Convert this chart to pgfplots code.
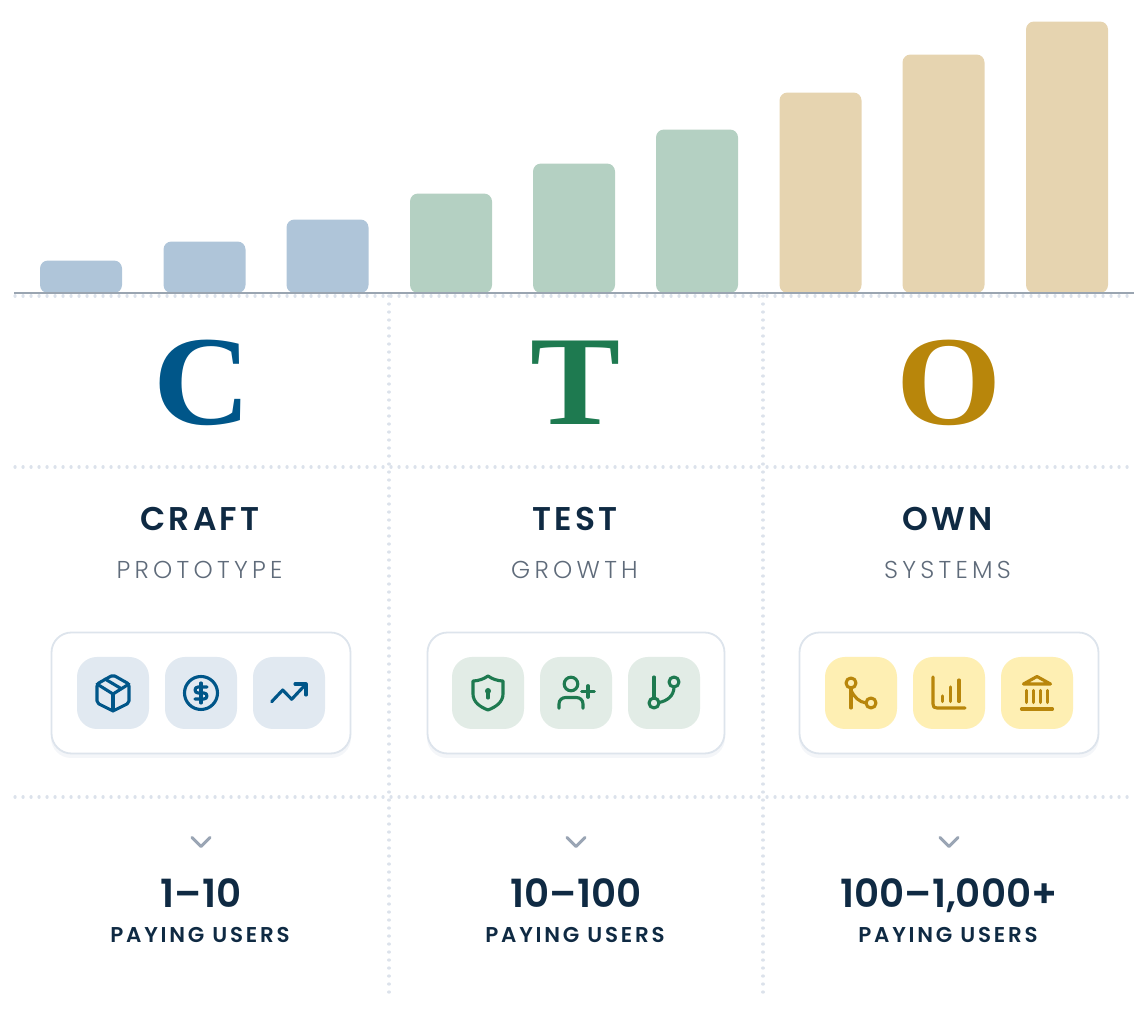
\documentclass[border=0pt]{standalone}
\usepackage{pgfplots}
\pgfplotsset{compat=1.18}
\usepackage{fontspec}
\setmainfont{Poppins}
\newfontfamily\hd[LetterSpace=10]{Poppins SemiBold}
\newfontfamily\sub[LetterSpace=17.5]{Poppins Light}
\newfontfamily\num{Poppins SemiBold}
\newfontfamily\pay[LetterSpace=13]{Poppins SemiBold}
\newfontfamily\ser{Liberation Serif}
\definecolor{bblue}{HTML}{AFC5D9}
\definecolor{bgreen}{HTML}{B4D0C2}
\definecolor{btan}{HTML}{E6D4B0}
\definecolor{cblue}{HTML}{005689}
\definecolor{cgreen}{HTML}{1E7A50}
\definecolor{cgold}{HTML}{B8860B}
\definecolor{tblue}{HTML}{E1E9F1}
\definecolor{tgreen}{HTML}{E2ECE6}
\definecolor{tgold}{HTML}{FEEFB3}
\definecolor{navy}{HTML}{0F2A43}
\definecolor{subg}{HTML}{5F6B7A}
\definecolor{dotc}{HTML}{DCE2EB}
\definecolor{cardb}{HTML}{DDE4EC}
\definecolor{shad}{HTML}{F4F6F9}
\definecolor{basel}{HTML}{9AA5B1}
\definecolor{chev}{HTML}{9AA5B4}
\pgfplotstableread{
x v
81 32.5
204.5 51.5
327.5 73.5
}\tblA
\pgfplotstableread{
x v
451 99.5
574 129.5
697 163.5
}\tblB
\pgfplotstableread{
x v
820.5 200.5
943.5 238.5
1067 271.5
}\tblC
\tikzset{
 ic/.style={line width=3.1bp,line cap=round,line join=round},
 dots/.style={dotc,line width=3.2bp,line cap=round,dash pattern=on 0.1bp off 7.9bp},
}
\newcommand{\card}[6]{% x0 x1 color t1 t2 t3
 \fill[shad,rounded corners=20bp] (#1,636) rectangle (#2,758);
 \draw[cardb,line width=1.8bp,fill=white,rounded corners=20bp] (#1+0.5,632.5) rectangle (#2-0.5,753.5);
 \foreach \c in {#4,#5,#6}{\fill[#3,rounded corners=20bp] (\c-36,657) rectangle (\c+36,729);}
}
\newcommand{\column}[6]{% cx name sub range color letter
 \node[anchor=base,inner sep=0pt,navy] at (#1-1,531) {\fontsize{33}{33}\hd #2};
 \node[anchor=base,inner sep=0pt,subg] at (#1-1.5,579) {\fontsize{24.5}{25}\sub #3};
 \draw[chev,line width=3bp,line cap=round,line join=round] (#1-9,837.5) -- (#1,846.5) -- (#1+9,837.5);
 \node[anchor=base,inner sep=0pt,navy] at (#1,908) {\fontsize{39}{39}\num #4};
 \node[anchor=base,inner sep=0pt,navy] at (#1-1,943) {\fontsize{21.5}{22}\pay PAYING USERS};
 \node[anchor=base,inner sep=0pt,#5] at (#1,425) {\scalebox{1.06}[1]{\fontsize{128}{128}\ser\bfseries #6}};
}
\begin{document}
\begin{tikzpicture}
\begin{axis}[
 at={(0,0)},anchor=south west,
 width=1146bp,height=1014bp,scale only axis,
 xmin=0,xmax=1146,ymin=-721,ymax=293,
 hide axis,clip=false,
 ybar,bar shift=0pt,bar width=82bp,
]
\addplot[fill=bblue,draw=none,rounded corners=8bp] table[x=x,y=v]{\tblA};
\addplot[fill=bgreen,draw=none,rounded corners=8bp] table[x=x,y=v]{\tblB};
\addplot[fill=btan,draw=none,rounded corners=8bp] table[x=x,y=v]{\tblC};
\end{axis}
\path[use as bounding box] (0,0) rectangle (1146bp,1014bp);
\begin{scope}[x=1bp,y=-1bp,shift={(0,1014bp)}]
 % dotted grid
 \draw[dots] (15,296) -- (1135,296);
 \draw[dots] (15,467) -- (1135,467);
 \draw[dots] (15,797) -- (1135,797);
 \draw[dots] (389,296) -- (389,993);
 \draw[dots] (763,296) -- (763,993);
 \draw[basel,line width=1.6bp] (14,293) -- (1134,293);
 % cards
 \card{51}{351}{tblue}{113}{201}{289}
 \card{427}{725}{tgreen}{488}{576}{664}
 \card{799}{1099}{tgold}{861}{949}{1037}
 % text
 \column{201}{CRAFT}{PROTOTYPE}{1–10}{cblue}{\hspace{3bp}C}
 \column{576}{TEST}{GROWTH}{10–100}{cgreen}{T}
 \column{949}{OWN}{SYSTEMS}{100–1,000+}{cgold}{O}
 % box
 \begin{scope}[shift={(113,693)},ic,cblue]
  \draw[rounded corners=2bp] (0,-18) -- (16,-9) -- (16,10) -- (0,18) -- (-16,10) -- (-16,-9) -- cycle;
  \draw (-16,-9) -- (0,1) -- (16,-9);
  \draw (0,1) -- (0,18);
  \draw (-8,-14) -- (8,-4.5);
 \end{scope}
 % dollar
 \begin{scope}[shift={(201,693)},ic,cblue]
  \draw (0,0) circle (16.5);
  \draw (0,-10) -- (0,10);
  \draw (6,-6) -- (-3,-6) arc[start angle=-90,end angle=-270,radius=3] -- (3,0) arc[start angle=-90,end angle=90,radius=3] -- (-6,6);
 \end{scope}
 % trend
 \begin{scope}[shift={(289,693)},ic,cblue]
  \draw (-17.3,8.7) -- (-6.3,-3) -- (2.7,6.3) -- (17,-9);
  \draw (6,-9) -- (17,-9) -- (17,2);
 \end{scope}
 % shield
 \begin{scope}[shift={(488,693)},ic,cgreen]
  \draw (0,-17) .. controls (-4,-14) and (-10,-12) .. (-15,-12) -- (-15,1) .. controls (-15,9) and (-8,14) .. (0,17) .. controls (8,14) and (15,9) .. (15,1) -- (15,-12) .. controls (10,-12) and (4,-14) .. (0,-17) -- cycle;
  \fill (0,-2) circle (3);
  \draw (0,-2) -- (0,5);
 \end{scope}
 % user plus
 \begin{scope}[shift={(576,693)},ic,cgreen]
  \draw (-5,-9) circle (6.8);
  \draw (-17,15.3) -- (-17,11) .. controls (-17,7) and (-14,4.5) .. (-10,4.5) -- (0,4.5) .. controls (4,4.5) and (7,7) .. (7,11) -- (7,15.3);
  \draw (5.7,-1.3) -- (18.3,-1.3);
  \draw (12,-7.3) -- (12,4.3);
 \end{scope}
 % branch
 \begin{scope}[shift={(664,693)},ic,cgreen]
  \draw (-10,-16) -- (-10,5);
  \draw (-10,10) circle (5);
  \draw (10,-11) circle (5);
  \draw (10,-6) .. controls (10,3) and (3,8) .. (-5,9.5);
 \end{scope}
 % merge
 \begin{scope}[shift={(861,693)},ic,cgold]
  \draw (-10,-10) circle (5);
  \draw (10,10) circle (5);
  \draw (-10,-5) -- (-10,15);
  \draw (-10,-3) .. controls (-7,4) and (-2,9) .. (5,10);
 \end{scope}
 % chart
 \begin{scope}[shift={(949,693)},ic,cgold]
  \draw (-16,-16) -- (-16,11) .. controls (-16,14) and (-15,15) .. (-12,15) -- (16,15);
  \draw (-6.7,3) -- (-6.7,8.5);
  \draw (1.7,-6) -- (1.7,8.5);
  \draw (10,-13) -- (10,8.5);
 \end{scope}
 % bank
 \begin{scope}[shift={(1037,693)},ic,cgold]
  \draw (0,-16.5) -- (-13.5,-9) -- (13.5,-9) -- cycle;
  \foreach \q in {-10.7,-3.7,3.3,10.3}{\draw (\q,-2.5) -- (\q,9.5);}
  \draw (-15.5,16) -- (15.5,16);
 \end{scope}
\end{scope}
\end{tikzpicture}
\end{document}
